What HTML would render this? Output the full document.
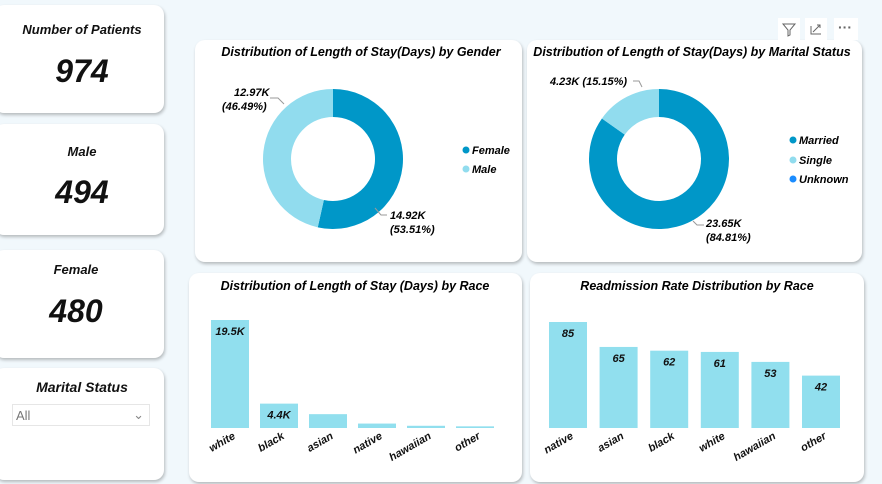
<!DOCTYPE html>
<html><head><meta charset="utf-8">
<style>
body{margin:0;width:882px;height:484px;background:#f1f8fc;font-family:"Liberation Sans",sans-serif;overflow:hidden;position:relative}
.card{position:absolute;background:#fff;border-radius:10px;box-shadow:1px 2px 3px rgba(0,0,0,0.25)}
.t{font-style:italic;font-weight:bold;color:#111;text-align:center;position:absolute;left:0;right:0}
svg{position:absolute;left:0;top:0}
svg text{font-family:"Liberation Sans",sans-serif;font-style:italic;font-weight:bold}
</style></head><body>
<div class="card" style="left:-6px;top:5px;width:170px;height:108px">
 <div class="t" style="top:17px;font-size:13px;left:6px">Number of Patients</div>
 <div class="t" style="top:48px;font-size:32px;left:6px">974</div></div>
<div class="card" style="left:-6px;top:124px;width:170px;height:111px">
 <div class="t" style="top:20px;font-size:13px;left:6px">Male</div>
 <div class="t" style="top:50px;font-size:32px;left:6px">494</div></div>
<div class="card" style="left:-6px;top:250px;width:170px;height:108px">
 <div class="t" style="top:12px;font-size:13px;left:-6px">Female</div>
 <div class="t" style="top:43px;font-size:32px;left:-6px">480</div></div>
<div class="card" style="left:-6px;top:368px;width:170px;height:112px">
 <div class="t" style="top:11px;font-size:14px;left:6px">Marital Status</div>
 <div style="position:absolute;left:18px;top:36px;width:138px;height:22px;border:1px solid #e6e6e6;font-size:13px;color:#777;line-height:22px;padding-left:3px;box-sizing:border-box">All<span style="position:absolute;right:5px;top:-1px;color:#888">&#8964;</span></div></div>

<div class="card" style="left:195px;top:40px;width:327px;height:222px"></div>
<div class="card" style="left:527px;top:40px;width:335px;height:222px"></div>
<div class="card" style="left:189px;top:273px;width:333px;height:209px"></div>
<div class="card" style="left:530px;top:273px;width:334px;height:209px"></div>

<svg width="882" height="484" id="s">
 <g>
  <rect x="778" y="18" width="22" height="22" fill="#fff"/><path d="M783 24h12l-5 6v5l-2 1v-6z" fill="none" stroke="#666" stroke-width="1"/>
  <rect x="805" y="18" width="22" height="22" fill="#fff"/><path d="M811 26v8h10M813 32l7-7m-3 0h3v3" fill="none" stroke="#666"/>
  <rect x="834" y="18" width="24" height="22" fill="#fff"/><text x="838" y="32" font-size="14" fill="#666" style="font-style:normal">···</text>
 </g>
 <text x="361" y="56" font-size="12.5" text-anchor="middle">Distribution of Length of Stay(Days) by Gender</text>
 <text x="692" y="56" font-size="12.5" text-anchor="middle">Distribution of Length of Stay(Days) by Marital Status</text>
 <text x="355" y="290" font-size="12.5" text-anchor="middle">Distribution of Length of Stay (Days) by Race</text>
 <text x="697" y="290" font-size="12.5" text-anchor="middle">Readmission Rate Distribution by Race</text>
 <g id="g1"></g><g id="g2"></g><g id="b1"></g><g id="b2"></g>
 <!-- legends -->
 <circle cx="466" cy="150" r="3.5" fill="#0097c8"/><text x="472" y="154" font-size="11">Female</text>
 <circle cx="466" cy="169" r="3.5" fill="#91dcee"/><text x="472" y="173" font-size="11">Male</text>
 <circle cx="793" cy="140" r="3.5" fill="#0097c8"/><text x="799" y="144" font-size="11">Married</text>
 <circle cx="793" cy="160" r="3.5" fill="#91dcee"/><text x="799" y="164" font-size="11">Single</text>
 <circle cx="793" cy="179" r="3.5" fill="#1a8cff"/><text x="799" y="183" font-size="11">Unknown</text>
 <!-- donut labels -->
 <text x="234" y="96" font-size="11">12.97K</text>
 <text x="222" y="110" font-size="11">(46.49%)</text>
 <path d="M270 98h8l6 6" fill="none" stroke="#999"/>
 <text x="390" y="219" font-size="11">14.92K</text>
 <text x="390" y="233" font-size="11">(53.51%)</text>
 <path d="M375 208l6 7h6" fill="none" stroke="#999"/>
 <text x="550" y="85" font-size="11">4.23K (15.15%)</text>
 <path d="M633 81h6l3 6" fill="none" stroke="#999"/>
 <text x="706" y="227" font-size="11">23.65K</text>
 <text x="706" y="241" font-size="11">(84.81%)</text>
 <path d="M693 221l4 4h7" fill="none" stroke="#999"/>
</svg>
<script>
const genderCats=["Female","Male"];
const genderVals=[14.92,12.97];
const maritalCats=["Married","Single"];
const maritalVals=[23.65,4.23];
const raceCats=["white","black","asian","native","hawaiian","other"];
const raceVals=[19.5,4.4,2.5,0.8,0.4,0.3];
const raceLabels=["19.5K","4.4K","","","",""];
const readCats=["native","asian","black","white","hawaiian","other"];
const readVals=[85,65,62,61,53,42];
const colors=["#0097c8","#91dcee"];
const NS="http://www.w3.org/2000/svg";
function mk(t,a,p){const e=document.createElementNS(NS,t);for(const k in a)e.setAttribute(k,a[k]);p.appendChild(e);return e;}
function donut(gid,vals,cats,cx,cy,R,r){
 const g=document.getElementById(gid);const tot=vals.reduce((a,b)=>a+b,0);let a0=0;
 vals.forEach((v,i)=>{const a1=a0+v/tot*2*Math.PI;
  const p=(a,rad)=>[cx+rad*Math.sin(a),cy-rad*Math.cos(a)];
  const L=(a1-a0)>Math.PI?1:0;const[x1,y1]=p(a0,R),[x2,y2]=p(a1,R),[x3,y3]=p(a1,r),[x4,y4]=p(a0,r);
  const e=mk("path",{d:`M${x1} ${y1}A${R} ${R} 0 ${L} 1 ${x2} ${y2}L${x3} ${y3}A${r} ${r} 0 ${L} 0 ${x4} ${y4}Z`,fill:colors[i]},g);
  
  
  a0=a1;});
}
donut("g1",genderVals,genderCats,333,159,70,42);
donut("g2",maritalVals,maritalCats,659,159,70,42);
function bars(gid,cats,vals,labels,x0,step,max,ph){
 const g=document.getElementById(gid);const base=428;const y=v=>base-v/max*ph;
 cats.forEach((c,i)=>{const x=x0+i*step;
  const b=mk("rect",{x:x,y:y(vals[i]),width:38,height:base-y(vals[i]),fill:"#91dfee"},g);
  
  
  if(labels[i]){const t=mk("text",{x:x+19,y:y(vals[i])+15,"font-size":11,"text-anchor":"middle",fill:"#111"},g);t.textContent=labels[i];
   
   }
  const l=mk("text",{x:x+25,y:base+10,"font-size":11,"text-anchor":"end",transform:`rotate(-30 ${x+25} ${base+10})`,fill:"#111"},g);l.textContent=c;
  
  
 });
}
bars("b1",raceCats,raceVals,raceVals.map((v,i)=>raceLabels[i]),211,49,19.5,108);
bars("b2",readCats,readVals,readVals.map(String),549,50.6,85,106);
</script>
</body></html>
